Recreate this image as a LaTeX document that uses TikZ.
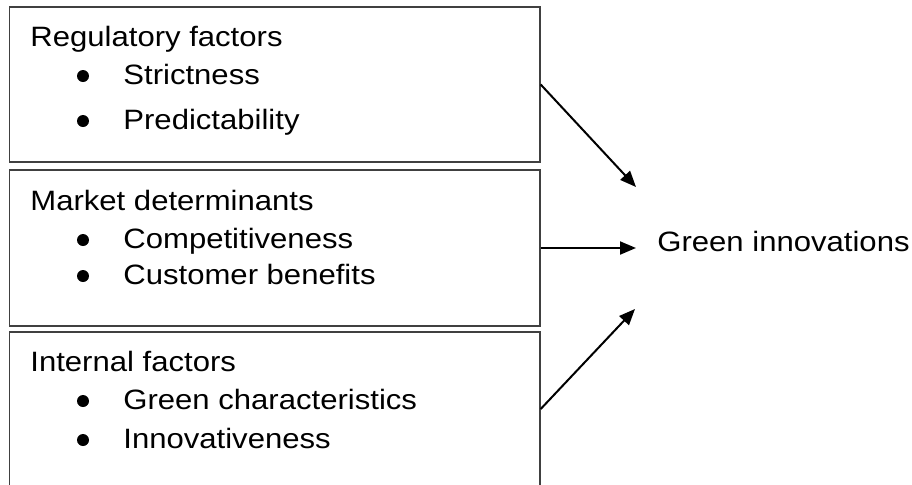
\documentclass[tikz,border=0pt]{standalone}
\usepackage{fontspec}
\setmainfont{Liberation Sans}[FakeStretch=1.11]
\usepackage{xcolor}
\usepackage{tikz}
\usetikzlibrary{arrows.meta,positioning}
\definecolor{frameline}{HTML}{404040}
\definecolor{ink}{HTML}{000000}

\begin{document}
\begin{tikzpicture}[
  x=0.5pt, y=-0.5pt,
  frame/.style={draw=frameline, line width=0.7pt, minimum width=265.25pt, inner sep=0pt},
  head/.style={anchor=base west, inner sep=0pt, text=ink, font=\fontsize{14}{17}\selectfont},
  entry/.style={head},
  dot/.style={circle, fill=ink, inner sep=0pt, minimum size=6pt},
  link/.style={draw=ink, -{Triangle[length=8pt,width=6.5pt]}, line width=1pt}
]
\useasboundingbox (0,0) rectangle (912,484);

% three factor boxes
\node[frame, minimum height=77.5pt] (reg) at (274.75,84.5) {};
\node[frame, minimum height=78pt] (mkt) at (274.75,248) {};
\node[frame, minimum height=77pt] (intl) at (274.75,409) {};

% regulatory factors
\node[head] (reghead) at (30,46) {Regulatory factors};
\node[dot] (regdotA) at (83,76) {};
\node[entry] (regA) at (123,84) {Strictness};
\node[dot] (regdotB) at (83,121) {};
\node[entry] (regB) at (123,129) {Predictability};

% market determinants
\node[head] (mkthead) at (30,210) {Market determinants};
\node[dot] (mktdotA) at (83,240) {};
\node[entry] (mktA) at (123,248) {Competitiveness};
\node[dot] (mktdotB) at (83,276) {};
\node[entry] (mktB) at (123,284) {Customer benefits};

% internal factors
\node[head] (intlhead) at (30,371) {Internal factors};
\node[dot] (intldotA) at (83,401) {};
\node[entry] (intlA) at (123,409) {Green characteristics};
\node[dot] (intldotB) at (83,440) {};
\node[entry] (intlB) at (123,448) {Innovativeness};

% outcome
\node[head] (goal) at (657,251) {Green innovations};
\coordinate (tipA) at (636,187);
\coordinate (tipB) at (636,248);
\coordinate (tipC) at (635,309);

\draw[link] (reg.east) -- (tipA);
\draw[link] (mkt.east) -- (tipB);
\draw[link] (intl.east) -- (tipC);
\end{tikzpicture}
\end{document}
